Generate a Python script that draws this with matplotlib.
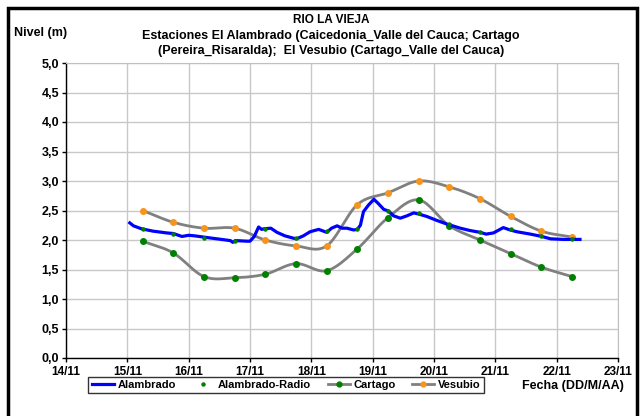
import numpy as np
import matplotlib.pyplot as plt
from matplotlib.patches import Rectangle
from matplotlib.lines import Line2D

plt.rcParams['font.family'] = ['Liberation Sans', 'DejaVu Sans']
plt.rcParams['font.weight'] = 'bold'

# days as decimal day of November
est_dias = [15.25, 15.75, 16.25, 16.75, 17.25, 17.75, 18.25, 18.75,
            19.25, 19.75, 20.25, 20.75, 21.25, 21.75, 22.25]
cartago = [1.98, 1.78, 1.38, 1.36, 1.42, 1.60, 1.48, 1.85,
           2.38, 2.68, 2.24, 2.00, 1.77, 1.54, 1.38]
vesubio = [2.50, 2.30, 2.20, 2.20, 2.00, 1.90, 1.90, 2.60,
           2.80, 3.00, 2.90, 2.70, 2.40, 2.15, 2.05]
radio = [2.18, 2.11, 2.04, 1.99, 2.18, 2.03, 2.16, 2.18,
         2.50, 2.45, 2.27, 2.14, 2.18, 2.06, 2.01]

alamb_dias = [15.04, 15.10, 15.23, 15.42, 15.64, 15.75, 15.89, 16.00, 16.10, 16.24,
              16.46, 16.68, 16.72, 16.76, 16.95, 17.00, 17.07, 17.14, 17.19, 17.23,
              17.34, 17.44, 17.57, 17.71, 17.76, 17.87, 17.98, 18.12, 18.25, 18.33,
              18.42, 18.50, 18.58, 18.69, 18.75, 18.80, 18.85, 18.93, 19.02, 19.09,
              19.18, 19.26, 19.34, 19.45, 19.56, 19.67, 19.75, 19.88, 20.05, 20.21,
              20.43, 20.59, 20.75, 20.85, 20.97, 21.13, 21.24, 21.35, 21.57, 21.76,
              21.90, 22.11, 22.25, 22.38]
alambrado = [2.29, 2.24, 2.19, 2.15, 2.12, 2.11, 2.06, 2.08, 2.07, 2.05,
             2.02, 1.99, 1.96, 1.99, 1.98, 1.98, 2.06, 2.22, 2.18, 2.19,
             2.20, 2.13, 2.07, 2.03, 2.02, 2.07, 2.14, 2.18, 2.13, 2.20,
             2.24, 2.20, 2.20, 2.17, 2.18, 2.25, 2.48, 2.59, 2.69, 2.62,
             2.52, 2.49, 2.41, 2.37, 2.41, 2.46, 2.44, 2.40, 2.33, 2.27,
             2.20, 2.16, 2.13, 2.10, 2.12, 2.21, 2.17, 2.14, 2.10, 2.06,
             2.02, 2.01, 2.01, 2.01]

x_ticks = [14, 15, 16, 17, 18, 19, 20, 21, 22, 23]
x_labels = ['14/11', '15/11', '16/11', '17/11', '18/11', '19/11', '20/11',
            '21/11', '22/11', '23/11']
y_ticks = [0, 0.5, 1, 1.5, 2, 2.5, 3, 3.5, 4, 4.5, 5]


def smooth(xs, ys, n=20):
    # catmull-rom style curve through the points, like excel's smoothed line
    xs = np.asarray(xs, float)
    ys = np.asarray(ys, float)
    px = np.concatenate([[2 * xs[0] - xs[1]], xs, [2 * xs[-1] - xs[-2]]])
    py = np.concatenate([[2 * ys[0] - ys[1]], ys, [2 * ys[-1] - ys[-2]]])
    outx, outy = [], []
    t = np.linspace(0, 1, n)
    for i in range(1, len(px) - 2):
        for p, out in ((px, outx), (py, outy)):
            p0, p1, p2, p3 = p[i - 1], p[i], p[i + 1], p[i + 2]
            out.extend(0.5 * ((2 * p1) + (-p0 + p2) * t
                              + (2 * p0 - 5 * p1 + 4 * p2 - p3) * t ** 2
                              + (-p0 + 3 * p1 - 3 * p2 + p3) * t ** 3))
    return outx, outy


fig = plt.figure(figsize=(6.41, 4.16), dpi=100)
ax = fig.add_axes([66 / 641, 1 - 358 / 416, 552 / 641, 295 / 416])

gray = '#808080'
ax.grid(True, color='#c8c8c8', linewidth=1)
ax.set_axisbelow(True)

sx, sy = smooth(est_dias, cartago)
ax.plot(sx, sy, color=gray, lw=2, zorder=2)
ax.plot(est_dias, cartago, 'o', color='#008000', ms=4, zorder=3)
sx, sy = smooth(est_dias, vesubio)
ax.plot(sx, sy, color=gray, lw=2, zorder=2)
ax.plot(est_dias, vesubio, 'o', color='#f7941d', ms=4, zorder=3)
ax.plot(alamb_dias, alambrado, color='#0000ff', lw=2.3, zorder=4)
ax.plot(est_dias, radio, 'o', color='#008000', ms=2.2, zorder=5)

ax.set_xlim(14, 23)
ax.set_ylim(0, 5)
ax.set_xticks(x_ticks)
ax.set_xticklabels(x_labels)
ax.set_yticks(y_ticks)
ax.set_yticklabels([f'{v:.1f}'.replace('.', ',') for v in y_ticks])
ax.tick_params(length=3, width=1, colors='black', pad=2)
ax.tick_params(axis='y', labelsize=9)
ax.tick_params(axis='x', labelsize=8.5, pad=3)
for s in ['top', 'right']:
    ax.spines[s].set_color('#c0c0c0')
for s in ['left', 'bottom']:
    ax.spines[s].set_color('black')
    ax.spines[s].set_linewidth(1)

fs = 9
fig.text(331 / 641, 1 - 20 / 416, 'RIO LA VIEJA', ha='center', va='center', fontsize=8.5)
fig.text(331 / 641, 1 - 36 / 416,
         'Estaciones El Alambrado (Caicedonia_Valle del Cauca; Cartago',
         ha='center', va='center', fontsize=fs)
fig.text(331 / 641, 1 - 51 / 416,
         '(Pereira_Risaralda);  El Vesubio (Cartago_Valle del Cauca)',
         ha='center', va='center', fontsize=fs)
fig.text(14 / 641, 1 - 33 / 416, 'Nivel (m)', ha='left', va='center', fontsize=fs)
fig.text(522 / 641, 1 - 386 / 416, 'Fecha (DD/M/AA)', ha='left', va='center', fontsize=fs)

handles = [
    Line2D([], [], color='#0000ff', lw=2.3),
    Line2D([], [], color='#008000', marker='o', ms=2.2, lw=0),
    Line2D([], [], color=gray, lw=2, marker='o', ms=3.5, mfc='#008000', mec='#008000'),
    Line2D([], [], color=gray, lw=2, marker='o', ms=3.5, mfc='#f7941d', mec='#f7941d'),
]
leg = fig.legend(handles, ['Alambrado', 'Alambrado-Radio', 'Cartago', 'Vesubio'],
                 loc='center', bbox_to_anchor=(286 / 641, 1 - 385 / 416), ncol=4,
                 fontsize=8, frameon=True, fancybox=False, edgecolor='black',
                 handlelength=2.0, handletextpad=0.3, columnspacing=1.5,
                 borderpad=0.3, borderaxespad=0)
leg.get_frame().set_linewidth(1)

# outer black frame
fig.patches.append(Rectangle((7.5 / 641, -0.05), 629 / 641, 1.05 - 7.5 / 416,
                             transform=fig.transFigure, fill=False,
                             edgecolor='black', linewidth=2.5))

fig.savefig('out.png', dpi=100)
